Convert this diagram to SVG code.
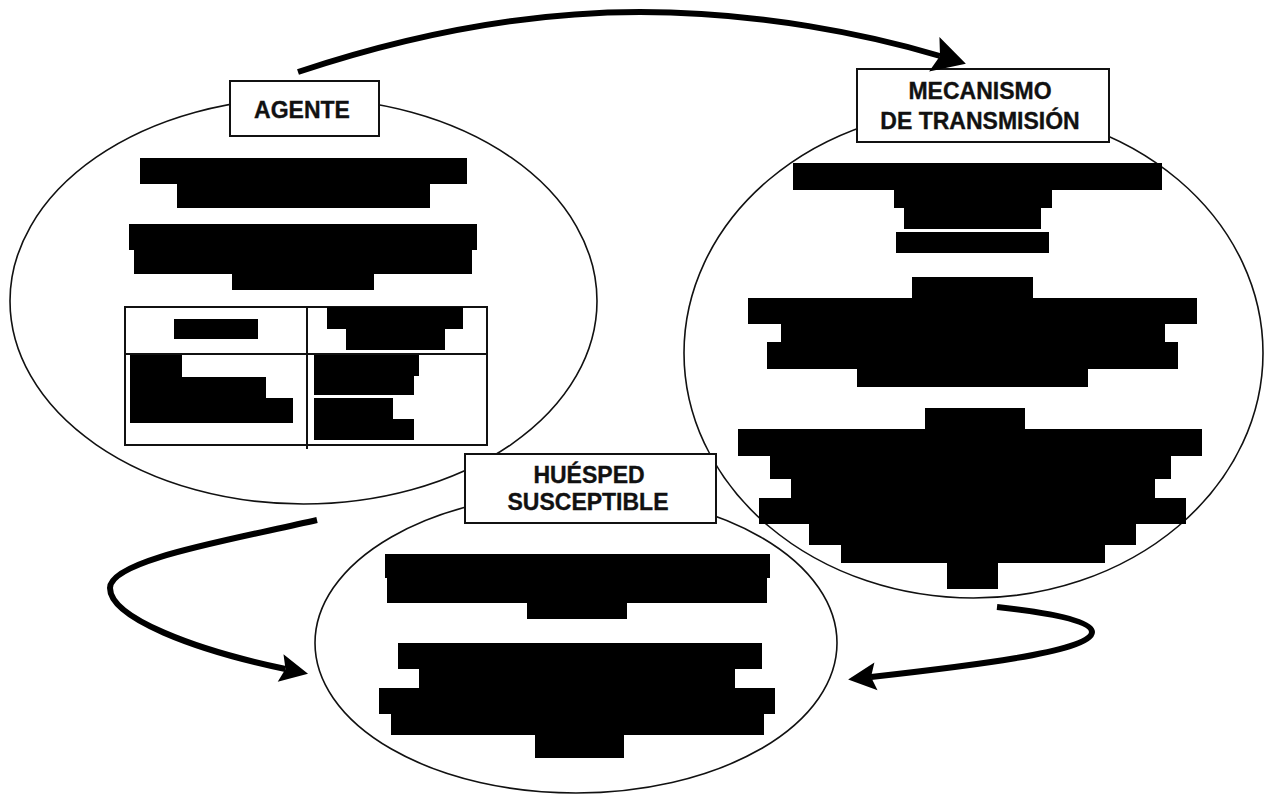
<svg xmlns="http://www.w3.org/2000/svg" width="1266" height="795" viewBox="0 0 1266 795">
  <style>
    .oval { fill: none; stroke: #111; stroke-width: 1.6; }
    .blk { fill: #000; stroke: none; }
    .box { fill: #fff; stroke: #111; stroke-width: 2; }
    .rule { fill: none; stroke: #111; stroke-width: 2; }
    .lbl { font-family: "Liberation Sans", Arial, sans-serif; font-weight: bold; font-size: 23px; fill: #111; stroke: #111; stroke-width: 0.35; text-anchor: middle; }
    .flow { fill: none; stroke: #000; stroke-width: 6; stroke-linecap: butt; }
  </style>
  <defs>
    <marker id="head" markerUnits="userSpaceOnUse" viewBox="-2 -16 34 32" markerWidth="34" markerHeight="32" refX="5" refY="0" orient="auto">
      <path d="M0,-14 L28,0 L0,14 L5,0 Z" fill="#000"/>
    </marker>
    <marker id="headL" markerUnits="userSpaceOnUse" viewBox="-2 -20 40 40" markerWidth="40" markerHeight="40" refX="6" refY="0" orient="auto">
      <path d="M0,-18 L33,0 L0,18 L6,0 Z" fill="#000"/>
    </marker>
  </defs>

  <rect width="1266" height="795" fill="#fff"/>

  <!-- AGENTE -->
  <g id="agente">
    <ellipse class="oval" cx="303.5" cy="301" rx="293.5" ry="203"/>
    <polygon class="blk" points="140,158 467,158 467,184 430,184 430,208 177,208 177,184 140,184"/>
    <polygon class="blk" points="129,224 477,224 477,250 472,250 472,274 374,274 374,290 232,290 232,274 134,274 134,250 129,250"/>
    <rect class="rule" x="125" y="307" width="362" height="138"/>
    <line class="rule" x1="307" y1="307" x2="307" y2="449"/>
    <line class="rule" x1="125" y1="354" x2="487" y2="354"/>
    <rect class="blk" x="174" y="319" width="84" height="20"/>
    <polygon class="blk" points="327,307 463,307 463,329 445,329 445,350 346,350 346,329 327,329"/>
    <polygon class="blk" points="130,355 182,355 182,377 266,377 266,398 293,398 293,423 130,423"/>
    <polygon class="blk" points="314,355 419,355 419,376 414,376 414,395 314,395"/>
    <polygon class="blk" points="314,398 393,398 393,419 414,419 414,440 314,440"/>
  </g>

  <!-- MECANISMO DE TRANSMISIÓN -->
  <g id="mecanismo">
    <ellipse class="oval" cx="973.5" cy="353" rx="289.5" ry="245"/>
    <polygon class="blk" points="793,163 1162,163 1162,190 1052,190 1052,208 1041,208 1041,229 904,229 904,208 894,208 894,190 793,190"/>
    <rect class="blk" x="896" y="232" width="153" height="21"/>
    <polygon class="blk" points="912,277 1033,277 1033,298 1197,298 1197,324 1165,324 1165,342 1178,342 1178,369 1088,369 1088,387 857,387 857,369 767,369 767,342 781,342 781,324 748,324 748,298 912,298"/>
    <polygon class="blk" points="925,408 1025,408 1025,429 1202,429 1202,456 1171,456 1171,479 1155,479 1155,498 1186,498 1186,524 1136,524 1136,545 1105,545 1105,563 998,563 998,589 947,589 947,563 841,563 841,545 809,545 809,524 759,524 759,498 791,498 791,479 770,479 770,456 738,456 738,429 925,429"/>
  </g>

  <!-- HUÉSPED SUSCEPTIBLE -->
  <g id="huesped">
    <ellipse class="oval" cx="576" cy="643" rx="261" ry="150"/>
    <polygon class="blk" points="385,554 770,554 770,578 767,578 767,603 627,603 627,619 527,619 527,603 387,603 387,578 385,578"/>
    <polygon class="blk" points="398,643 762,643 762,669 735,669 735,688 775,688 775,714 764,714 764,735 624,735 624,758 535,758 535,735 391,735 391,714 379,714 379,688 419,688 419,669 398,669"/>
  </g>

  <!-- label boxes sit over the oval outlines -->
  <g id="agente-label">
    <rect class="box" x="230" y="81" width="149" height="55"/>
    <text class="lbl" x="302" y="118">AGENTE</text>
  </g>
  <g id="mecanismo-label">
    <rect class="box" x="857" y="69" width="252" height="73"/>
    <text class="lbl" x="980" y="99">MECANISMO</text>
    <text class="lbl" x="980" y="129">DE TRANSMISIÓN</text>
  </g>
  <g id="huesped-label">
    <rect class="box" x="465" y="454" width="251" height="69"/>
    <text class="lbl" x="589" y="483">HUÉSPED</text>
    <text class="lbl" x="588" y="510">SUSCEPTIBLE</text>
  </g>

  <!-- cycle connectors -->
  <g id="connectors">
    <path class="flow" d="M298,72 C400,38 520,12 640,12 C760,12 870,35 940,56" marker-end="url(#headL)"/>
    <path class="flow" d="M997,607 C1045,612 1092,620 1092,632 C1092,652 960,667 871,677" marker-end="url(#head)"/>
    <path class="flow" d="M317,520 C230,540 110,560 110,588 C110,618 195,650 285.5,669" marker-end="url(#head)"/>
  </g>
</svg>
